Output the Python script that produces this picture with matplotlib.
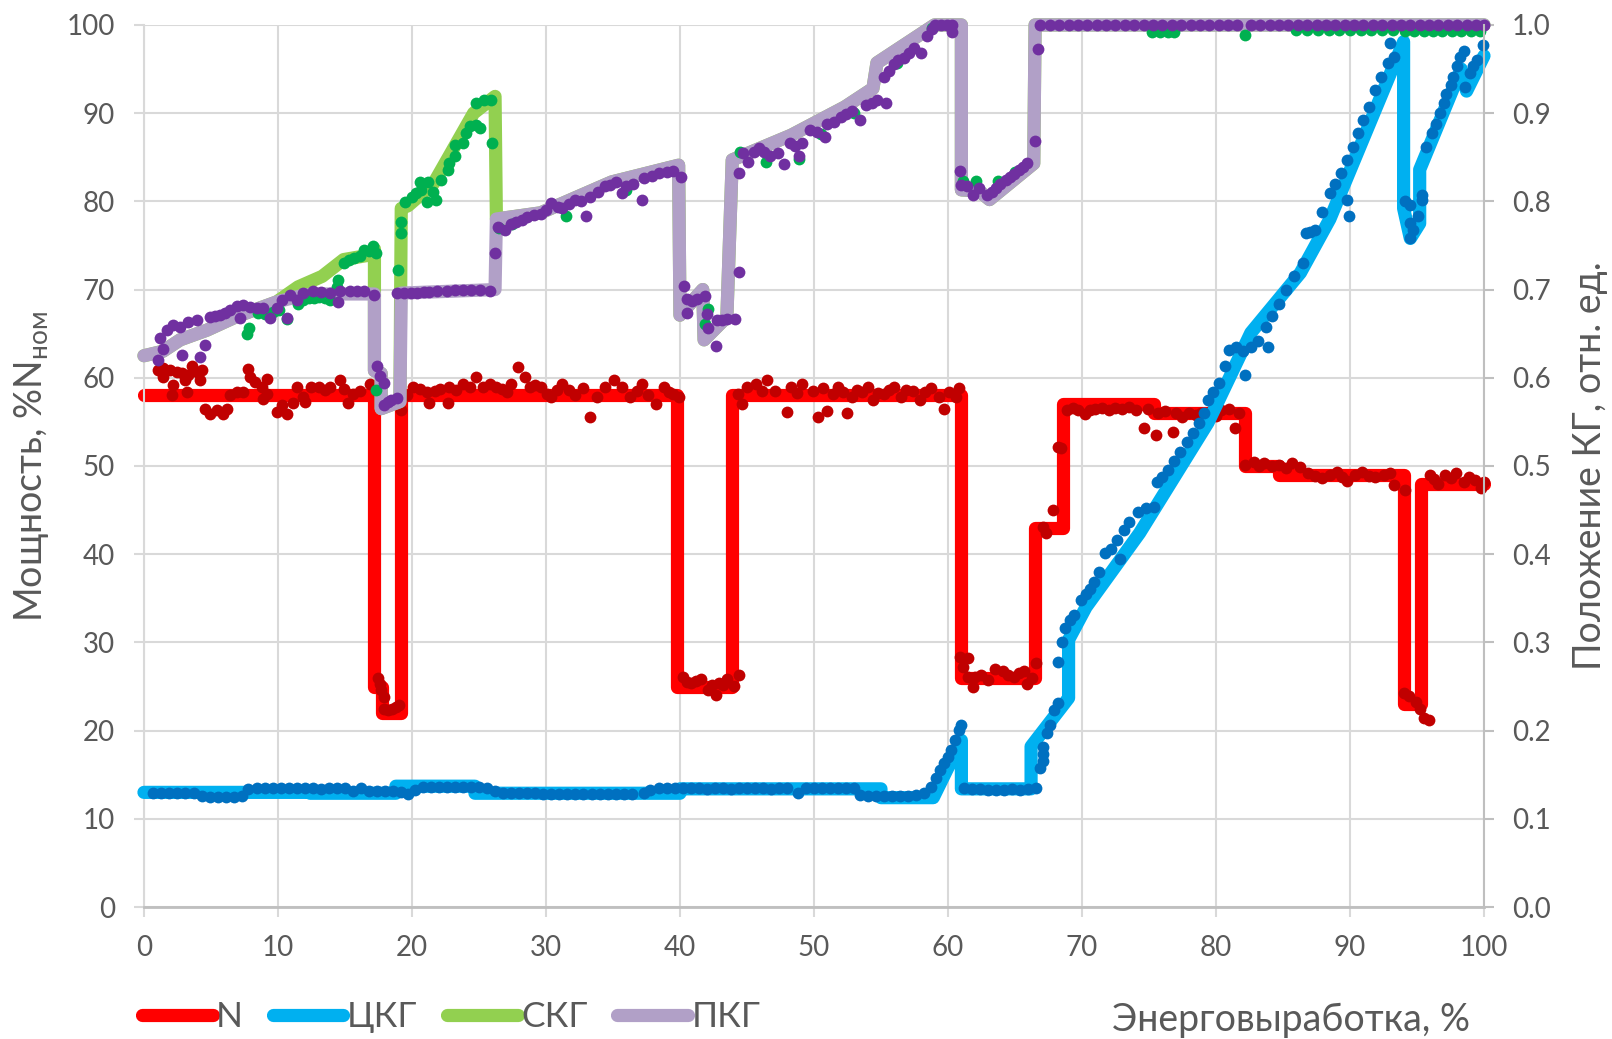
import matplotlib
matplotlib.use('Agg')
import matplotlib.pyplot as plt

plt.rcParams['font.family'] = ['Lato', 'DejaVu Sans']
plt.rcParams['mathtext.fontset'] = 'custom'
plt.rcParams['mathtext.rm'] = 'Lato'

TXT = '#595959'
GRID = '#D9D9D9'
AXIS = '#BFBFBF'

# --- N, % Nном (left axis) ---
n_x = [0, 17.2, 17.2, 17.8, 17.8, 19.2, 19.2, 39.8, 39.8, 43.9, 43.9, 61.0, 61.0, 66.5,
       66.5, 68.6, 68.6, 75.4, 75.4, 82.2, 82.2, 84.7, 84.7, 94.0, 94.0, 95.3, 95.3, 100]
n_y = [58, 58, 25, 25, 22, 22, 58, 58, 25, 25, 58, 58, 26, 26,
       43, 43, 57, 57, 56, 56, 50, 50, 49, 49, 23, 23, 48, 48]

n_pts_x = [1.07, 1.44, 1.44, 1.94, 2.06, 2.19, 2.44, 2.81, 3.06, 3.18, 3.31, 3.56, 3.93, 4.18,
           4.30, 4.55, 4.93, 5.42, 5.92, 6.17, 6.42, 6.92, 7.41, 7.78, 7.91, 8.28, 8.78, 8.91,
           9.15, 9.15, 9.9, 10.27, 10.65, 11.15, 11.4, 11.9, 12.0, 12.5, 13.1, 13.5, 13.9, 14.6,
           14.9, 15.25, 15.6, 16.1, 16.9, 17.5,
           17.5, 17.6, 17.7, 17.9, 17.9, 18.2, 18.5, 18.8, 19.0,
           19.2, 19.6, 20.1, 20.6, 21.1, 21.3, 21.7, 22.1, 22.7, 22.8, 23.3, 23.8, 24.3, 24.8,
           25.3, 25.8, 26.3, 26.7, 27.1, 27.4, 27.9, 28.4, 28.8, 29.2, 29.6, 30.1,
           30.4, 30.8, 31.2, 31.7, 32.2, 32.8, 33.3, 33.8, 34.4, 35.1, 35.7, 36.3, 36.8, 37.2,
           37.6, 38.2, 38.8, 39.2, 39.5, 39.9,
           40.2, 40.5, 40.8, 41.2, 41.6, 42.1, 42.4, 42.7, 42.9, 43.2, 43.5, 44.0, 44.4,
           44.3, 44.6, 45.0, 45.7, 46.1, 46.5, 47.1, 48.0, 48.3, 48.7, 49.1, 49.9, 50.3, 50.7,
           51.0, 51.4, 51.8, 52.2, 52.5, 52.8, 53.2, 53.6, 54.0, 54.4, 54.8, 55.2, 55.6, 56.0,
           56.5, 56.9, 57.4, 57.9, 58.3, 58.7, 59.3, 59.7, 60.1, 60.6, 60.8,
           60.9, 61.1, 61.5, 61.5, 61.9, 62.0, 62.5, 63.0, 63.5, 64.1, 64.5, 64.9, 65.3, 65.7,
           65.9, 66.3, 66.6,
           67.1, 67.3, 67.8, 68.2, 68.4, 68.9, 69.3, 69.7, 70.2, 70.6, 71.0, 71.5, 72.0, 72.5,
           73.0, 73.5, 74.0, 74.6, 74.9, 75.5, 75.7, 76.2, 76.8, 77.0, 77.5, 78.0, 78.5, 78.9,
           79.6, 80.0, 80.4, 81.0, 81.4, 81.7,
           82.2, 82.8, 83.2, 83.6, 84.2, 84.7, 85.2, 85.7, 86.3, 86.9, 87.4, 87.9, 88.5, 89.0,
           89.4, 89.8, 90.4, 90.9, 91.4, 91.9, 92.5, 93.0, 93.3, 94.1,
           94.0, 94.4, 94.9, 95.2, 95.5, 95.9,
           96.0, 96.3, 96.6, 97.1, 97.5, 97.9, 98.5, 98.9, 99.3, 99.8, 100.0]
n_pts_y = [60.9, 61.1, 60.1, 60.9, 58.0, 59.2, 60.7, 60.5, 59.7, 58.4, 60.3, 61.3, 60.7, 59.7,
           60.9, 56.5, 55.9, 56.3, 55.9, 56.5, 58.0, 58.4, 58.4, 61.0, 60.1, 59.5, 58.9, 57.6,
           59.9, 58.2, 56.1, 56.9, 55.9, 57.1, 58.9, 57.8, 57.2, 58.9, 58.9, 58.6, 58.9, 59.8,
           58.7, 57.1, 58.2, 58.5, 59.3, 58.4,
           26.0, 25.3, 24.6, 23.8, 22.5, 22.3, 22.5, 22.7, 22.9,
           56.3, 58.0, 58.9, 58.7, 58.4, 57.1, 58.5, 58.7, 57.1, 58.9, 58.6, 59.3, 59.0, 60.1,
           58.9, 59.3, 58.9, 58.7, 58.4, 59.3, 61.2, 60.1, 58.9, 59.2, 58.9, 58.2,
           57.8, 58.6, 59.3, 58.6, 58.0, 58.8, 55.6, 57.8, 59.0, 59.7, 59.0, 57.8, 58.5, 59.3,
           58.0, 57.0, 59.0, 58.4, 58.2, 57.8,
           26.1, 25.5, 25.4, 25.6, 25.9, 24.6, 25.2, 24.0, 25.4, 25.2, 25.8, 25.1, 26.3,
           58.2, 57.0, 59.0, 59.3, 58.5, 59.7, 58.5, 56.1, 59.0, 58.3, 59.3, 58.5, 55.6, 58.8,
           56.2, 58.2, 59.0, 58.4, 56.0, 57.8, 58.6, 58.4, 58.9, 57.5, 58.3, 58.2, 58.6, 59.0,
           57.8, 58.6, 58.5, 57.5, 58.4, 58.8, 57.8, 56.5, 58.4, 57.8, 58.8,
           28.4, 27.2, 28.2, 26.1, 25.0, 26.1, 26.3, 25.7, 27.0, 26.8, 26.3, 26.1, 26.5, 26.8,
           25.3, 26.0, 27.7,
           43.1, 42.4, 45.0, 52.2, 52.0, 56.3, 56.6, 56.3, 55.9, 56.4, 56.5, 56.6, 56.4, 56.6,
           56.5, 56.7, 56.4, 54.3, 56.5, 53.5, 56.0, 56.2, 53.9, 56.0, 55.6, 56.0, 55.8, 56.0,
           56.2, 55.7, 56.3, 56.5, 54.3, 56.0,
           50.1, 50.5, 50.0, 50.3, 50.0, 50.1, 49.8, 50.3, 49.9, 49.2, 48.9, 48.6, 49.0, 49.3,
           48.8, 48.3, 49.0, 49.3, 48.9, 48.8, 49.0, 49.2, 47.8, 47.3,
           24.3, 23.9, 23.3, 22.4, 21.4, 21.2,
           49.0, 48.5, 48.0, 49.0, 48.6, 49.2, 48.2, 48.7, 48.4, 47.5, 48.2]

# --- control rod group positions, rel. units (right axis) ---
ckg_x = [0, 12.4, 12.4, 18.8, 18.8, 24.7, 24.7, 40.0, 40.0, 55.0, 55.0, 58.9, 61.0, 61.0,
         66.2, 66.2, 69.0, 69.0, 70.3, 74.3, 79.4, 82.6, 86.3, 88.5, 94.0, 94.0, 94.5, 95.2,
         95.2, 98.3, 98.7, 100]
ckg_y = [0.130, 0.130, 0.129, 0.129, 0.137, 0.137, 0.129, 0.129, 0.134, 0.134, 0.124, 0.124,
         0.189, 0.134, 0.134, 0.182, 0.237, 0.303, 0.340, 0.424, 0.549, 0.651, 0.719, 0.780,
         0.981, 0.792, 0.758, 0.775, 0.836, 0.950, 0.925, 0.965]

ckg_pts_x = [0.7, 1.3, 1.9, 2.5, 3.1, 3.7, 4.3, 4.9, 5.5, 6.1, 6.7, 7.3, 7.8, 8.4, 9.0, 9.6,
             10.2, 10.8, 11.4, 12.0, 12.6, 13.2, 13.8, 14.4, 15.0, 15.6, 16.2, 16.8, 17.4,
             18.0, 18.6, 19.2, 19.7, 20.2, 20.8, 21.4, 22.0, 22.6, 23.2, 23.8, 24.4, 25.0,
             25.6, 26.2, 26.8, 27.4, 28.0, 28.6, 29.2, 29.8, 30.4, 31.0, 31.6, 32.2, 32.8,
             33.4, 34.0, 34.6, 35.2, 35.8, 36.4, 37.3, 37.8, 38.4, 39.0, 39.6, 40.2, 40.8,
             41.4, 42.0, 42.6, 43.2, 43.8, 44.4, 45.0, 45.6, 46.2, 46.8, 47.4, 48.0, 48.8,
             49.4, 50.0, 50.6, 51.2, 51.8, 52.4, 53.0, 53.4, 54.0, 54.6, 55.2, 55.8, 56.4,
             57.0, 57.6, 58.2, 58.7, 59.1, 59.4, 59.7, 60.0, 60.2, 60.5, 60.8, 61.0, 61.2,
             61.8, 62.4, 63.0, 63.6, 64.2, 64.8, 65.4, 66.0, 66.6, 66.9, 67.1, 67.1, 67.1,
             67.4, 67.6, 67.9, 68.2, 68.2, 68.5, 68.7, 69.1, 69.4, 69.9, 70.3, 70.6, 70.9,
             71.3, 71.7, 72.2, 72.6, 72.8, 73.1, 73.5, 74.2, 74.8, 75.4, 75.6, 76.0, 76.4,
             76.9, 77.3, 77.8, 78.3, 78.7, 79.1, 79.4, 79.8, 80.2, 80.7, 81.0, 81.5, 82.2,
             82.0, 82.6, 83.1, 83.7, 83.9, 84.2, 84.7, 85.2, 85.8, 86.5, 86.7, 87.0, 87.4,
             87.9, 88.5, 88.9, 89.3, 89.8, 89.8, 89.9, 90.2, 90.6, 91.0, 91.4, 91.9, 92.3,
             92.8, 93.0, 93.3, 94.1, 94.5, 94.5, 94.5, 94.7, 95.1, 95.4, 95.4, 95.7, 96.1,
             96.4, 96.7, 97.0, 97.2, 97.5, 97.7, 98.0, 98.2, 98.5, 98.6, 98.96, 99.2, 99.5,
             99.9]
ckg_pts_y = [0.129, 0.129, 0.129, 0.129, 0.129, 0.129, 0.126, 0.125, 0.125, 0.125, 0.125,
             0.126, 0.134, 0.135, 0.135, 0.135, 0.135, 0.135, 0.135, 0.135, 0.135, 0.134,
             0.135, 0.135, 0.135, 0.132, 0.135, 0.131, 0.131, 0.132, 0.131, 0.130, 0.128,
             0.133, 0.136, 0.136, 0.136, 0.136, 0.136, 0.136, 0.136, 0.136, 0.135, 0.132,
             0.129, 0.129, 0.129, 0.129, 0.129, 0.128, 0.128, 0.128, 0.128, 0.128, 0.128,
             0.128, 0.128, 0.128, 0.128, 0.128, 0.128, 0.129, 0.133, 0.135, 0.135, 0.135,
             0.135, 0.135, 0.135, 0.134, 0.135, 0.135, 0.134, 0.135, 0.135, 0.135, 0.135,
             0.134, 0.135, 0.135, 0.129, 0.135, 0.135, 0.135, 0.135, 0.135, 0.135, 0.135,
             0.127, 0.126, 0.126, 0.126, 0.126, 0.126, 0.126, 0.127, 0.129, 0.136, 0.146,
             0.155, 0.163, 0.170, 0.178, 0.189, 0.201, 0.206, 0.135, 0.134, 0.134, 0.133,
             0.133, 0.133, 0.134, 0.133, 0.134, 0.135, 0.158, 0.165, 0.174, 0.182, 0.197,
             0.206, 0.223, 0.231, 0.278, 0.301, 0.316, 0.325, 0.331, 0.348, 0.355, 0.361,
             0.369, 0.380, 0.401, 0.406, 0.416, 0.395, 0.428, 0.437, 0.448, 0.452, 0.454,
             0.482, 0.488, 0.495, 0.506, 0.516, 0.527, 0.537, 0.549, 0.560, 0.575, 0.584,
             0.594, 0.613, 0.632, 0.635, 0.603, 0.630, 0.635, 0.642, 0.658, 0.635, 0.670,
             0.684, 0.699, 0.715, 0.730, 0.764, 0.765, 0.767, 0.788, 0.809, 0.820, 0.832,
             0.847, 0.802, 0.783, 0.862, 0.877, 0.892, 0.907, 0.926, 0.941, 0.957, 0.979,
             0.964, 0.800, 0.796, 0.775, 0.758, 0.767, 0.783, 0.802, 0.807, 0.862, 0.877,
             0.888, 0.900, 0.911, 0.922, 0.932, 0.941, 0.953, 0.964, 0.970, 0.930, 0.945,
             0.953, 0.960, 0.977]

skg_x = [0, 1.4, 2.7, 4.7, 7.0, 9.9, 11.5, 13.3, 14.9, 16.8, 17.2, 17.2, 17.7, 17.7, 19.1,
         19.2, 19.7, 21.6, 24.6, 26.2, 26.3, 29.6, 34.9, 39.9, 40.0, 41.7, 41.8, 43.5, 43.9,
         48.3, 52.3, 54.4, 54.7, 59.0, 61.0, 61.0, 62.3, 63.1, 66.4, 66.5, 100]
skg_y = [0.625, 0.630, 0.643, 0.654, 0.670, 0.686, 0.703, 0.715, 0.734, 0.739, 0.746, 0.608,
         0.605, 0.565, 0.573, 0.792, 0.795, 0.820, 0.900, 0.919, 0.780, 0.787, 0.822, 0.841,
         0.671, 0.700, 0.643, 0.669, 0.847, 0.875, 0.907, 0.928, 0.957, 1.0, 1.0, 0.813,
         0.812, 0.802, 0.843, 1.0, 1.0]

skg_pts_x = [7.7, 7.85, 8.5, 9.0, 9.6, 10.1, 10.7, 11.5, 11.9, 12.3, 12.7, 13.1, 13.5, 13.9,
             14.4, 14.5, 14.9, 15.3, 15.7, 16.1, 16.4, 16.8, 17.1, 17.3, 17.3, 18.95, 19.2,
             19.2, 19.5, 20.0, 20.3, 20.6, 20.7, 21.1, 21.2, 21.6, 21.8, 22.2, 22.7, 22.8,
             23.2, 23.2, 23.8, 24.0, 24.3, 24.8, 25.1, 24.8, 25.4, 25.9, 26.0,
             26.5, 27.5, 31.5, 36.0, 41.9, 42.1, 44.5, 46.4, 48.9, 50.5, 53.0, 56.2, 58.8,
             61.1, 62.1, 63.7, 65.0,
             75.2, 75.8, 76.4, 76.9, 82.2, 86.0, 86.8, 87.6, 88.4, 89.2, 90.0, 90.8, 91.6,
             92.4, 93.2, 94.1, 94.8, 95.5, 96.2, 96.9, 97.6, 98.3, 99.0, 99.7]
skg_pts_y = [0.650, 0.656, 0.673, 0.672, 0.675, 0.677, 0.667, 0.684, 0.688, 0.690, 0.691,
             0.692, 0.690, 0.688, 0.703, 0.711, 0.730, 0.734, 0.736, 0.738, 0.745, 0.744,
             0.749, 0.741, 0.586, 0.722, 0.764, 0.777, 0.799, 0.805, 0.809, 0.822, 0.813,
             0.799, 0.822, 0.811, 0.802, 0.824, 0.836, 0.843, 0.851, 0.864, 0.866, 0.877,
             0.885, 0.887, 0.883, 0.911, 0.915, 0.915, 0.866,
             0.770, 0.774, 0.783, 0.813, 0.661, 0.678, 0.856, 0.845, 0.848, 0.876, 0.900,
             0.957, 0.996, 0.823, 0.823, 0.823, 0.833,
             0.992, 0.992, 0.992, 0.992, 0.989, 0.994, 0.994, 0.994, 0.994, 0.994, 0.994,
             0.994, 0.994, 0.994, 0.994, 0.993, 0.993, 0.993, 0.993, 0.993, 0.993, 0.993,
             0.993, 0.993]

pkg_x = [0, 1.4, 2.7, 4.7, 7.0, 9.9, 12.0, 13.5, 17.2, 17.2, 17.7, 17.7, 19.1, 19.2, 26.2,
         26.3, 29.6, 34.9, 39.9, 40.0, 41.7, 41.8, 43.5, 43.9, 48.3, 52.3, 54.4, 54.7, 59.0,
         61.0, 61.0, 62.3, 63.1, 66.4, 66.5, 100]
pkg_y = [0.625, 0.630, 0.643, 0.654, 0.670, 0.686, 0.694, 0.695, 0.695, 0.608, 0.605, 0.565,
         0.573, 0.696, 0.700, 0.780, 0.787, 0.822, 0.841, 0.671, 0.700, 0.643, 0.669, 0.847,
         0.875, 0.907, 0.928, 0.957, 1.0, 1.0, 0.813, 0.812, 0.802, 0.843, 1.0, 1.0]

pkg_pts_x = [1.07, 1.2, 1.44, 1.69, 2.19, 2.69, 2.81, 3.31, 3.93, 4.18, 4.55, 4.93, 5.3, 5.67,
             6.05, 6.42, 6.92, 7.16, 7.41, 7.9, 8.41, 8.91, 9.4, 9.9, 10.27, 10.65, 10.9,
             11.4, 11.9, 12.6, 13.2, 13.9, 14.5, 14.6, 15.4, 15.9, 16.4, 17.2, 17.4, 17.6,
             17.9, 17.9, 18.2, 18.4, 18.9, 18.9, 19.4, 19.9, 20.4, 20.9, 21.3, 21.9, 22.6,
             23.2, 23.8, 24.4, 25.1, 25.8, 26.2, 26.4, 26.96, 27.4, 27.8, 28.2, 28.6, 29.1,
             29.6, 30.0, 30.4, 30.9, 31.2, 31.7, 32.2, 32.6, 33.0, 33.3, 33.9, 34.4, 34.8,
             35.2, 35.7, 36.0, 36.5, 37.2, 37.3, 37.9, 38.4, 39.0, 39.5, 40.1, 40.3, 40.5,
             40.5, 40.9, 41.3, 41.9, 42.0, 42.1, 42.7, 42.8, 43.1, 43.5, 44.1, 44.4, 44.4,
             44.7, 45.1, 45.5, 45.9, 46.3, 46.7, 47.3, 47.8, 48.2, 48.6, 48.9, 49.1, 49.7,
             50.2, 50.8, 51.0, 51.5, 52.0, 52.4, 52.8, 53.4, 53.9, 54.3, 54.7, 55.4, 55.2,
             55.6, 56.0, 56.3, 56.7, 57.1, 57.5, 58.0, 58.4, 58.8, 59.0, 59.5, 59.9, 60.3,
             60.3, 60.9, 61.0, 61.4, 61.9, 62.3, 62.9, 63.3, 63.6, 63.9, 64.3, 64.6, 64.9,
             65.3, 65.6, 65.9, 66.5, 66.7,
             66.9, 67.6, 68.3, 69.0, 69.7, 70.4, 71.1, 71.8, 72.5, 73.2, 73.9, 74.6, 75.3,
             76.0, 76.7, 77.4, 78.1, 78.8, 79.5, 80.2, 80.9, 81.6, 82.6, 83.3, 84.0, 84.7,
             85.4, 86.1, 86.8, 87.5, 88.2, 88.9, 89.6, 90.3, 91.0, 91.7, 92.4, 93.1, 93.8,
             94.5, 95.2, 95.9, 96.6, 97.3, 98.0, 98.7, 99.4, 100.0]
pkg_pts_y = [0.620, 0.645, 0.633, 0.654, 0.660, 0.658, 0.626, 0.663, 0.665, 0.624, 0.637,
             0.669, 0.670, 0.671, 0.674, 0.677, 0.681, 0.668, 0.683, 0.680, 0.679, 0.679,
             0.668, 0.679, 0.688, 0.668, 0.694, 0.688, 0.696, 0.698, 0.697, 0.696, 0.686,
             0.698, 0.698, 0.698, 0.698, 0.694, 0.613, 0.602, 0.594, 0.569, 0.572, 0.575,
             0.577, 0.696, 0.696, 0.696, 0.696, 0.697, 0.697, 0.698, 0.698, 0.699, 0.700,
             0.700, 0.700, 0.698, 0.741, 0.771, 0.768, 0.774, 0.777, 0.779, 0.782, 0.784,
             0.786, 0.790, 0.798, 0.794, 0.792, 0.797, 0.802, 0.800, 0.783, 0.805, 0.811,
             0.817, 0.819, 0.822, 0.809, 0.817, 0.820, 0.802, 0.826, 0.829, 0.832, 0.833,
             0.834, 0.828, 0.704, 0.689, 0.674, 0.687, 0.689, 0.693, 0.672, 0.657, 0.636,
             0.665, 0.666, 0.667, 0.667, 0.720, 0.832, 0.855, 0.845, 0.856, 0.860, 0.856,
             0.851, 0.855, 0.842, 0.866, 0.863, 0.851, 0.866, 0.881, 0.879, 0.873, 0.888,
             0.890, 0.896, 0.899, 0.903, 0.892, 0.909, 0.912, 0.915, 0.911, 0.941, 0.948,
             0.956, 0.960, 0.963, 0.968, 0.974, 0.968, 0.987, 0.995, 1.0, 1.0, 1.0, 1.0,
             0.992, 0.834, 0.819, 0.817, 0.807, 0.815, 0.807, 0.811, 0.815, 0.820, 0.824,
             0.828, 0.831, 0.835, 0.839, 0.843, 0.868, 0.973,
             1.0, 1.0, 1.0, 1.0, 1.0, 1.0, 1.0, 1.0, 1.0, 1.0, 1.0, 1.0, 1.0, 1.0, 1.0, 1.0,
             1.0, 1.0, 1.0, 1.0, 1.0, 1.0, 1.0, 1.0, 1.0, 1.0, 1.0, 1.0, 1.0, 1.0, 1.0, 1.0,
             1.0, 1.0, 1.0, 1.0, 1.0, 1.0, 1.0, 1.0, 1.0, 1.0, 1.0, 1.0, 1.0, 1.0, 1.0, 1.0]

x_ticks = list(range(0, 101, 10))
left_ticks = list(range(0, 101, 10))
right_ticks = [0.0, 0.1, 0.2, 0.3, 0.4, 0.5, 0.6, 0.7, 0.8, 0.9, 1.0]

LW = 9.5
MS = 8.5
line_kw = dict(lw=LW, solid_capstyle='round', solid_joinstyle='round', clip_on=False)
dot_kw = dict(ls='none', marker='o', ms=MS, mew=0, clip_on=False)

fig = plt.figure(figsize=(16.12, 10.39), dpi=100)
ax = fig.add_axes([0.0893, 0.127, 0.8313, 0.849])
ax2 = ax.twinx()

ln_n, = ax.plot(n_x, n_y, color='#FF0000', label='N', **line_kw)
ax.plot(n_pts_x, n_pts_y, color='#C00000', **dot_kw)

ln_c, = ax2.plot(ckg_x, ckg_y, color='#00B0F0', label='ЦКГ', **line_kw)
ln_s, = ax2.plot(skg_x, skg_y, color='#92D050', label='СКГ', **line_kw)
ln_p, = ax2.plot(pkg_x, pkg_y, color='#B1A0C7', label='ПКГ', **line_kw)
ax2.plot(ckg_pts_x, ckg_pts_y, color='#0070C0', **dot_kw)
ax2.plot(skg_pts_x, skg_pts_y, color='#00B050', **dot_kw)
ax2.plot(pkg_pts_x, pkg_pts_y, color='#7030A0', **dot_kw)

ax.set_xlim(0, 100)
ax.set_ylim(0, 100)
ax2.set_ylim(0, 1)
ax.set_xticks(x_ticks)
ax.set_yticks(left_ticks)
ax2.set_yticks(right_ticks)
ax2.set_yticklabels(['%.1f' % v for v in right_ticks])

ax.set_axisbelow(True)
ax.grid(True, color=GRID, lw=1.5)
for a in (ax, ax2):
    for s in a.spines.values():
        s.set_visible(False)
ax.spines['bottom'].set_visible(True)
ax.spines['bottom'].set_color(AXIS)
ax.spines['bottom'].set_linewidth(2)
ax.spines['left'].set_visible(True)
ax.spines['left'].set_color(GRID)
ax.spines['left'].set_linewidth(1.5)
ax2.spines['right'].set_visible(True)
ax2.spines['right'].set_color(AXIS)
ax2.spines['right'].set_linewidth(1.5)

ax.tick_params(axis='x', length=7, width=1.5, color=GRID, labelsize=20,
               labelcolor=TXT, pad=13)
ax.tick_params(axis='y', length=7, width=1.5, color=GRID, labelsize=20,
               labelcolor=TXT, pad=14)
ax2.tick_params(axis='y', length=7, width=1.5, color=AXIS, labelsize=20,
                labelcolor=TXT, pad=13)

ax.set_ylabel('Мощность, %N$_{\\mathrm{ном}}$', fontsize=27, color=TXT)
ax.yaxis.set_label_coords(-0.069, 0.5)
ax2.set_ylabel('Положение КГ, отн. ед.', fontsize=27, color=TXT)
ax2.yaxis.set_label_coords(1.066, 0.5)

fig.legend(handles=[ln_n, ln_c, ln_s, ln_p], loc='center left',
           bbox_to_anchor=(0.088, 0.021), ncol=4, frameon=False, fontsize=25.5,
           labelcolor=TXT, handlelength=2.0, handletextpad=0.1, columnspacing=0.83,
           borderpad=0, borderaxespad=0)
fig.text(0.912, 0.018, 'Энерговыработка, %', ha='right', va='center',
         fontsize=27, color=TXT)

fig.savefig('out.png', dpi=100)
